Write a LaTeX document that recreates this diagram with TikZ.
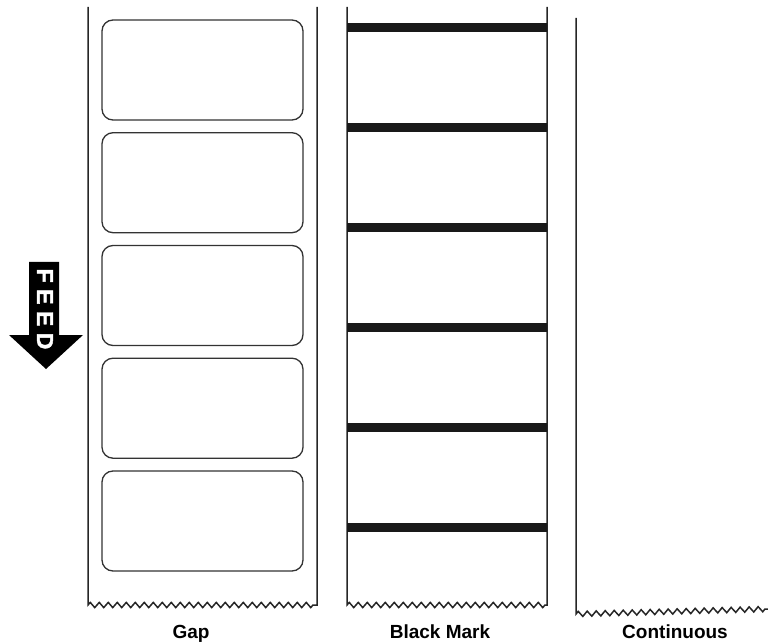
\documentclass[tikz,border=0pt]{standalone}
\usepackage{fontspec}
\setmainfont{Liberation Sans}
\newfontfamily\feedfont[FakeBold=2]{Liberation Sans Bold}
\usepackage{tikz}
\usetikzlibrary{decorations.pathmorphing}
\tikzset{
  stripedge/.style = {draw=black!85, line width=1.5pt},
  labelbox/.style  = {draw=black!80, line width=1.3pt, rectangle,
                      rounded corners=11pt, minimum width=201pt,
                      minimum height=100pt, inner sep=0pt},
  markbar/.style   = {fill=black!90, rectangle, inner sep=0pt,
                      minimum width=200pt, minimum height=9pt},
  tear/.style      = {decoration={zigzag, segment length=9pt, amplitude=2.6pt}},
  caption/.style   = {font=\bfseries\fontsize{19}{22}\selectfont, anchor=base},
}

\begin{document}
\begin{tikzpicture}[x=1pt, y=-1pt]
\useasboundingbox (0,0) rectangle (768,644);
% ---------------- gap stock ----------------
\draw[stripedge] (88,7) -- (88,605)
   decorate[tear]{-- (317,605)} -- (317,7);
\node[labelbox] (lab1) at (202.5,70)    {};
\node[labelbox] (lab2) at (202.5,182.7) {};
\node[labelbox] (lab3) at (202.5,295.5) {};
\node[labelbox] (lab4) at (202.5,408.2) {};
\node[labelbox] (lab5) at (202.5,521)   {};
\node[caption] (capgap) at (191,638) {Gap};
% ---------------- black mark stock ----------------
\draw[stripedge] (347,7) -- (347,605)
   decorate[tear]{-- (547,605)} -- (547,7);
\node[markbar] (bar1) at (447,27.5)  {};
\node[markbar] (bar2) at (447,127.5) {};
\node[markbar] (bar3) at (447,227.5) {};
\node[markbar] (bar4) at (447,327.5) {};
\node[markbar] (bar5) at (447,427.5) {};
\node[markbar] (bar6) at (447,527.5) {};
\node[caption] (capmark) at (440,638) {Black Mark};
% ---------------- continuous stock ----------------
\draw[stripedge] (576,18) -- (576,614)
   decorate[tear]{-- (768,609)};
\node[caption] (capcont) at (675,638) {Continuous};
% ---------------- feed direction ----------------
\fill[black] (29,262) -- (59,262) -- (59,335) -- (83,335) -- (46,369)
   -- (9,335) -- (29,335) -- cycle;
\node[rotate=-90, text=white, font=\feedfont\fontsize{23}{23}\selectfont]
   (feedtext) at (45,309) {F\kern6.5pt E\kern6.5pt E\kern6.5pt D};
\end{tikzpicture}
\end{document}
